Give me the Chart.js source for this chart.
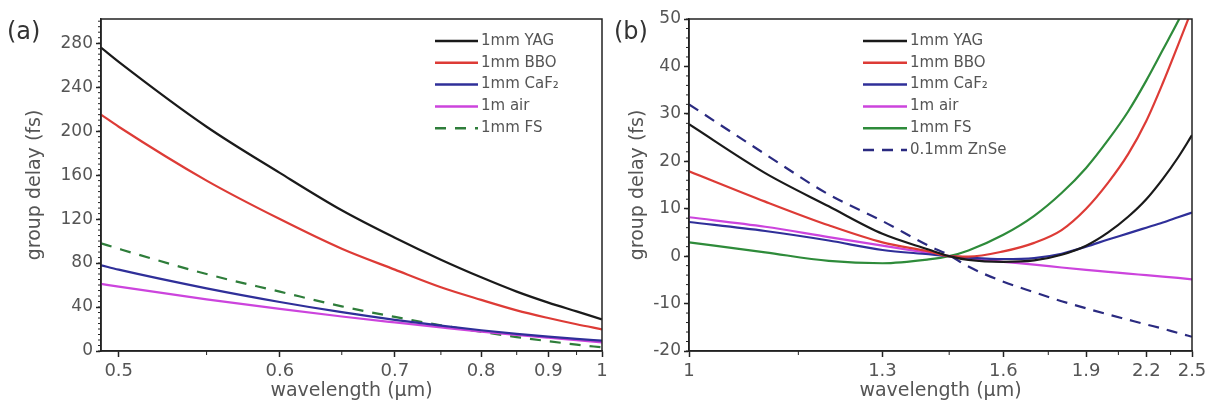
<!doctype html>
<html lang="en">
<head>
<meta charset="utf-8">
<title>Group delay</title>
<script src="https://cdn.jsdelivr.net/npm/chart.js"></script>
<style>
    body { margin: 0; background: #fff; width: 1216px; height: 410px; position: relative; overflow: hidden; }
    .panel { position: absolute; top: 0; height: 410px; }
    #panelA { left: 0; width: 612px; }
    #panelB { left: 612px; width: 604px; }
    .tag { position: absolute; top: 17px; font: 24px "DejaVu Sans", sans-serif; color: #333; }
</style>
</head>
<body>
<div class="panel" id="panelA"><canvas id="chartA"></canvas></div>
<div class="panel" id="panelB"><canvas id="chartB"></canvas></div>
<div class="tag" style="left:7px">(a)</div>
<div class="tag" style="left:614px">(b)</div>

<script>
    // panel (a): wavelength in um, group delay in fs
    const wlA = [0.491, 0.5, 0.55, 0.6, 0.65, 0.7, 0.75, 0.8, 0.85, 0.9, 0.95, 1.0];
    const yagA = [276, 263, 204, 162, 128, 103, 83, 67, 54, 44, 36, 28.8];
    const bboA = [215, 204, 155, 120, 93, 74, 58, 46.5, 37, 30, 24.3, 19.7];
    const caf2A = [78, 74, 57, 44.6, 35.3, 28.3, 23, 18.9, 15.6, 13, 11, 9.4];
    const airA = [61, 58.5, 47, 38.3, 31.4, 26, 21.5, 17.7, 14.7, 12.1, 9.8, 7.9];
    const fsA = [98, 93, 70, 54, 40.6, 31, 23.4, 17.5, 12.7, 8.9, 5.8, 3.3];
    const xTicksA = [0.5, 0.6, 0.7, 0.8, 0.9, 1];
    const xMinorA = [0.55, 0.65, 0.75, 0.85, 0.95];
    const yTicksA = [0, 40, 80, 120, 160, 200, 240, 280];

    // panel (b)
    const wlB = [1.0, 1.1, 1.2, 1.3, 1.4, 1.45, 1.5, 1.6, 1.7, 1.8, 1.9, 2.0, 2.1, 2.2, 2.3, 2.4, 2.5];
    const yagB = [27.8, 17.5, 10.5, 4.7, 1.4, 0, -0.8, -1.2, -0.9, 0.3, 2.2, 5, 8.3, 12, 16.3, 20.8, 25.5];
    const bboB = [17.9, 11.5, 6.5, 2.9, 1.0, 0, -0.1, 1.0, 2.8, 5.5, 10, 15.5, 21.5, 28.5, 36.5, 44.5, 52];
    const caf2B = [7.2, 5.3, 3.3, 1.3, 0.4, 0, -0.3, -0.6, -0.4, 0.5, 2, 3.5, 4.8, 6, 7.1, 8.2, 9.2];
    const airB = [8.2, 6.2, 4.0, 2.2, 0.7, 0, -0.5, -1.2, -1.8, -2.4, -2.9, -3.3, -3.7, -4.0, -4.3, -4.6, -4.9];
    const fsB = [2.9, 0.8, -1.0, -1.5, -0.7, 0, 1.2, 4.5, 8.5, 13.3, 18.6, 24.5, 30.5, 37, 43.5, 49.5, 55.5];
    const znseB = [32, 21.5, 13, 7.4, 2.2, 0.2, -2.2, -5.4, -7.6, -9.5, -11, -12.3, -13.4, -14.4, -15.3, -16.2, -17];
    const xTicksB = [1, 1.3, 1.6, 1.9, 2.2, 2.5];
    const xMinorB = [1.15, 1.45, 1.75, 2.05, 2.35];
    const yTicksB = [-20, -10, 0, 10, 20, 30, 40, 50];

    const txt = '#555';
    const axisCol = '#222';
    const fam = '"DejaVu Sans", sans-serif';

    // x axis is linear in 1/wavelength (frequency), labelled in wavelength
    function series(label, wl, vals, color, dash) {
        return {
            label: label,
            data: wl.map((w, i) => ({x: 1 / w, y: vals[i]})),
            borderColor: color,
            borderWidth: 2.2,
            borderDash: dash || [],
            pointRadius: 0,
            cubicInterpolationMode: 'monotone',
            fill: false
        };
    }

    // frame, minor ticks and in-plot legend
    const decor = {
        id: 'decor',
        afterDraw(chart, args, o) {
            const {ctx, chartArea: a, scales} = chart;
            ctx.save();
            ctx.strokeStyle = axisCol;
            ctx.lineWidth = 1.5;
            ctx.strokeRect(a.left, a.top, a.right - a.left, a.bottom - a.top);
            ctx.lineWidth = 1;
            ctx.beginPath();
            o.minorX.forEach(w => {
                const px = scales.x.getPixelForValue(1 / w);
                ctx.moveTo(px, a.bottom);
                ctx.lineTo(px, a.bottom + 4);
            });
            for (let v = o.yMin; v <= o.yMax; v += o.yStep) {
                const py = scales.y.getPixelForValue(v);
                ctx.moveTo(a.left - 3, py);
                ctx.lineTo(a.left, py);
            }
            ctx.stroke();

            ctx.font = '15px ' + fam;
            ctx.textBaseline = 'middle';
            ctx.fillStyle = txt;
            chart.data.datasets.forEach((d, i) => {
                const y = o.legY + i * o.legDy;
                ctx.strokeStyle = d.borderColor;
                ctx.lineWidth = 2.5;
                ctx.setLineDash(d.borderDash);
                ctx.beginPath();
                ctx.moveTo(o.legX, y);
                ctx.lineTo(o.legX + o.legLen, y);
                ctx.stroke();
                ctx.setLineDash([]);
                ctx.fillText(d.label, o.legX + o.legLen + 3, y);
            });
            ctx.restore();
        }
    };

    function makeChart(id, datasets, cfg) {
        return new Chart(document.getElementById(id), {
            type: 'line',
            data: {datasets: datasets},
            plugins: [decor],
            options: {
                responsive: true,
                maintainAspectRatio: false,
                animation: false,
                layout: {padding: {left: 0, right: cfg.padRight, top: 19, bottom: 0}},
                plugins: {
                    legend: {display: false},
                    tooltip: {enabled: false},
                    decor: cfg.decor
                },
                scales: {
                    x: {
                        type: 'linear',
                        reverse: true,
                        min: cfg.uMin,
                        max: cfg.uMax,
                        afterBuildTicks: s => { s.ticks = cfg.xTicks.map(w => ({value: 1 / w})); },
                        afterFit: s => { s.height = 59; },
                        ticks: {
                            autoSkip: false,
                            maxRotation: 0,
                            padding: 4,
                            color: txt,
                            font: {family: fam, size: 18},
                            callback: v => String(Math.round(10 / v) / 10)
                        },
                        grid: {drawOnChartArea: false, tickLength: 6, tickColor: axisCol, tickWidth: 1.5},
                        border: {color: axisCol, width: 1.5},
                        title: {
                            display: true,
                            text: 'wavelength (µm)',
                            color: txt,
                            font: {family: fam, size: 19},
                            padding: {top: 0, bottom: 8}
                        }
                    },
                    y: {
                        type: 'linear',
                        min: cfg.yMin,
                        max: cfg.yMax,
                        afterBuildTicks: s => { s.ticks = cfg.yTicks.map(v => ({value: v})); },
                        afterFit: s => { s.width = cfg.yWidth; },
                        ticks: {
                            padding: 3,
                            color: txt,
                            font: {family: fam, size: 17}
                        },
                        grid: {drawOnChartArea: false, tickLength: 5, tickColor: axisCol, tickWidth: 1.5},
                        border: {color: axisCol, width: 1.5},
                        title: {
                            display: true,
                            text: 'group delay (fs)',
                            color: txt,
                            font: {family: fam, size: 19},
                            padding: {top: cfg.yTitlePad, bottom: 0}
                        }
                    }
                }
            }
        });
    }

    makeChart('chartA', [
        series('1mm YAG', wlA, yagA, '#1a1a1a'),
        series('1mm BBO', wlA, bboA, '#dd3b36'),
        series('1mm CaF₂', wlA, caf2A, '#2f2f99'),
        series('1m air', wlA, airA, '#cc44dd'),
        series('1mm FS', wlA, fsA, '#2e7d3a', [11, 9])
    ], {
        padRight: 10, uMin: 1, uMax: 1 / 0.491, xTicks: xTicksA,
        yMin: 0, yMax: 302, yTicks: yTicksA, yWidth: 101, yTitlePad: 24,
        decor: {minorX: xMinorA, yMin: 0, yMax: 300, yStep: 5,
                legX: 435, legY: 41, legDy: 21.8, legLen: 43}
    });

    makeChart('chartB', [
        series('1mm YAG', wlB, yagB, '#1a1a1a'),
        series('1mm BBO', wlB, bboB, '#dd3b36'),
        series('1mm CaF₂', wlB, caf2B, '#2f2f99'),
        series('1m air', wlB, airB, '#cc44dd'),
        series('1mm FS', wlB, fsB, '#2e8b3a'),
        series('0.1mm ZnSe', wlB, znseB, '#2a2a80', [11, 8])
    ], {
        padRight: 24, uMin: 0.4, uMax: 1, xTicks: xTicksB,
        yMin: -20, yMax: 50, yTicks: yTicksB, yWidth: 77, yTitlePad: 15,
        decor: {minorX: xMinorB, yMin: -20, yMax: 50, yStep: 2,
                legX: 251, legY: 41, legDy: 21.8, legLen: 44}
    });
</script>
</body>
</html>
